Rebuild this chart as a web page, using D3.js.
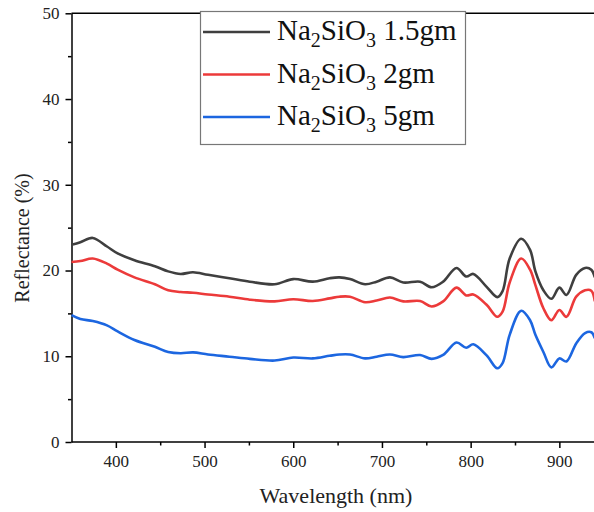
<!DOCTYPE html>
<html lang="en">
<head>
    <meta charset="UTF-8">
    <title>Reflectance</title>
    <script src="https://d3js.org/d3.v7.min.js"></script>
    <style>
        body { margin: 0; background: #fff; }
        svg { display: block; }
        svg text { font-family: "Liberation Serif", Tinos, "Times New Roman", Times, "DejaVu Serif", serif; }
        .tick text { font-size: 17px; fill: #222; }
        .axis path, .axis line { stroke: #000; stroke-width: 1.5px; }
        .title { font-size: 20px; fill: #222; }
        .legend text { font-size: 29px; fill: #111; }
    </style>
</head>
<body>
<svg width="594" height="512"></svg>
<script>
// wavelength (nm)
const wavelength = [350, 360, 374, 390, 402, 421, 444, 459, 473, 487, 504, 528, 551, 579, 600, 622, 641, 652, 664, 681, 694, 709, 724, 743, 756, 769, 784, 795, 803, 818, 830, 836, 844, 857, 867, 873, 882, 891, 900, 908, 919, 929, 936, 940];
// reflectance (%)
const r15 = [23.0, 23.3, 23.8, 22.8, 22.0, 21.2, 20.5, 19.9, 19.6, 19.8, 19.5, 19.1, 18.7, 18.4, 19.0, 18.7, 19.1, 19.2, 19.0, 18.4, 18.7, 19.2, 18.6, 18.7, 18.05, 18.7, 20.3, 19.3, 19.6, 18.1, 16.9, 17.6, 21.4, 23.7, 22.4, 19.9, 17.7, 16.7, 18.0, 17.15, 19.5, 20.3, 20.1, 19.2];
const r2 = [21.0, 21.1, 21.4, 20.8, 20.1, 19.2, 18.4, 17.7, 17.5, 17.4, 17.2, 16.95, 16.6, 16.4, 16.65, 16.45, 16.75, 16.95, 16.95, 16.3, 16.5, 16.85, 16.4, 16.45, 15.8, 16.4, 18.0, 17.1, 17.2, 16.0, 14.6, 15.2, 18.6, 21.4, 20.1, 18.3, 15.6, 14.2, 15.4, 14.6, 16.95, 17.7, 17.65, 16.4];
const r5 = [14.8, 14.35, 14.1, 13.6, 12.9, 11.9, 11.1, 10.5, 10.35, 10.45, 10.2, 9.95, 9.7, 9.5, 9.85, 9.75, 10.05, 10.2, 10.2, 9.75, 9.95, 10.2, 9.9, 10.15, 9.7, 10.15, 11.6, 11.0, 11.4, 10.1, 8.6, 9.2, 12.5, 15.3, 14.2, 12.5, 10.5, 8.7, 9.75, 9.4, 11.5, 12.7, 12.8, 12.1];

const seriesNames = ["1.5gm", "2gm", "5gm"];
const seriesColors = ["#3f3f3f", "#ec3a3a", "#1c66e0"];
const seriesValues = [r15, r2, r5];

const xTicks = [400, 500, 600, 700, 800, 900];
const yTicks = [0, 10, 20, 30, 40, 50];

const svg = d3.select("svg");
const padLeft = 71.5, padBottom = 442, padTop = 13.3;

const x = d3.scaleLinear().domain([350, 950]).range([padLeft, padLeft + 600 * 0.887]);
const y = d3.scaleLinear().domain([0, 50]).range([padBottom, padTop]);

// minor ticks
svg.append("g").attr("class", "axis")
    .attr("transform", `translate(0,${padBottom})`)
    .call(d3.axisBottom(x).tickValues([450, 550, 650, 750, 850]).tickSize(3.5).tickFormat(""))
    .call(g => g.select(".domain").remove());
svg.append("g").attr("class", "axis")
    .attr("transform", `translate(${padLeft},0)`)
    .call(d3.axisLeft(y).tickValues([5, 15, 25, 35, 45]).tickSize(3.5).tickFormat(""))
    .call(g => g.select(".domain").remove());

// major axes
svg.append("g").attr("class", "axis")
    .attr("transform", `translate(0,${padBottom})`)
    .call(d3.axisBottom(x).tickValues(xTicks).tickSizeInner(6).tickSizeOuter(0).tickPadding(7))
    .call(g => g.select(".domain").attr("d", `M${padLeft},0H${594}`));
svg.append("g").attr("class", "axis")
    .attr("transform", `translate(${padLeft},0)`)
    .call(d3.axisLeft(y).tickValues(yTicks).tickSizeInner(6).tickSizeOuter(0).tickPadding(6));
svg.selectAll(".axis").attr("font-family", null);

// top frame line
svg.append("line")
    .attr("x1", padLeft).attr("x2", 594)
    .attr("y1", padTop).attr("y2", padTop)
    .attr("stroke", "#000").attr("stroke-width", 1.5);

// curves
const line = d3.line()
    .x((d, i) => x(wavelength[i]))
    .y(d => y(d))
    .curve(d3.curveCatmullRom.alpha(0.5));

svg.selectAll("path.curve")
    .data(seriesValues)
    .enter().append("path")
    .attr("class", "curve")
    .attr("d", line)
    .attr("fill", "none")
    .attr("stroke", (d, i) => seriesColors[i])
    .attr("stroke-width", 2.6)
    .attr("stroke-linejoin", "round");

// axis titles
svg.append("text").attr("class", "title")
    .attr("x", 336).attr("y", 503)
    .attr("text-anchor", "middle")
    .style("font-size", "22px")
    .text("Wavelength (nm)");
svg.append("text").attr("class", "title")
    .attr("transform", "translate(29,238) rotate(-90)")
    .attr("text-anchor", "middle")
    .text("Reflectance (%)");

// legend
const legend = svg.append("g").attr("class", "legend");
legend.append("rect")
    .attr("x", 200.5).attr("y", 11.5).attr("width", 265).attr("height", 133)
    .attr("fill", "#fff").attr("stroke", "#777").attr("stroke-width", 1.2);

const rows = legend.selectAll("g.row")
    .data(seriesNames)
    .enter().append("g")
    .attr("class", "row")
    .attr("transform", (d, i) => `translate(0,${32 + i * 42.5})`);
rows.append("line")
    .attr("x1", 203).attr("x2", 270)
    .attr("stroke", (d, i) => seriesColors[i])
    .attr("stroke-width", 2.6);
const t = rows.append("text").attr("x", 277).attr("y", 8);
t.append("tspan").text("Na");
t.append("tspan").attr("dy", 7).style("font-size", "20px").text("2");
t.append("tspan").attr("dy", -7).text("SiO");
t.append("tspan").attr("dy", 7).style("font-size", "20px").text("3");
t.append("tspan").attr("dy", -7).text(d => "\u00a0" + d);
</script>
</body>
</html>
